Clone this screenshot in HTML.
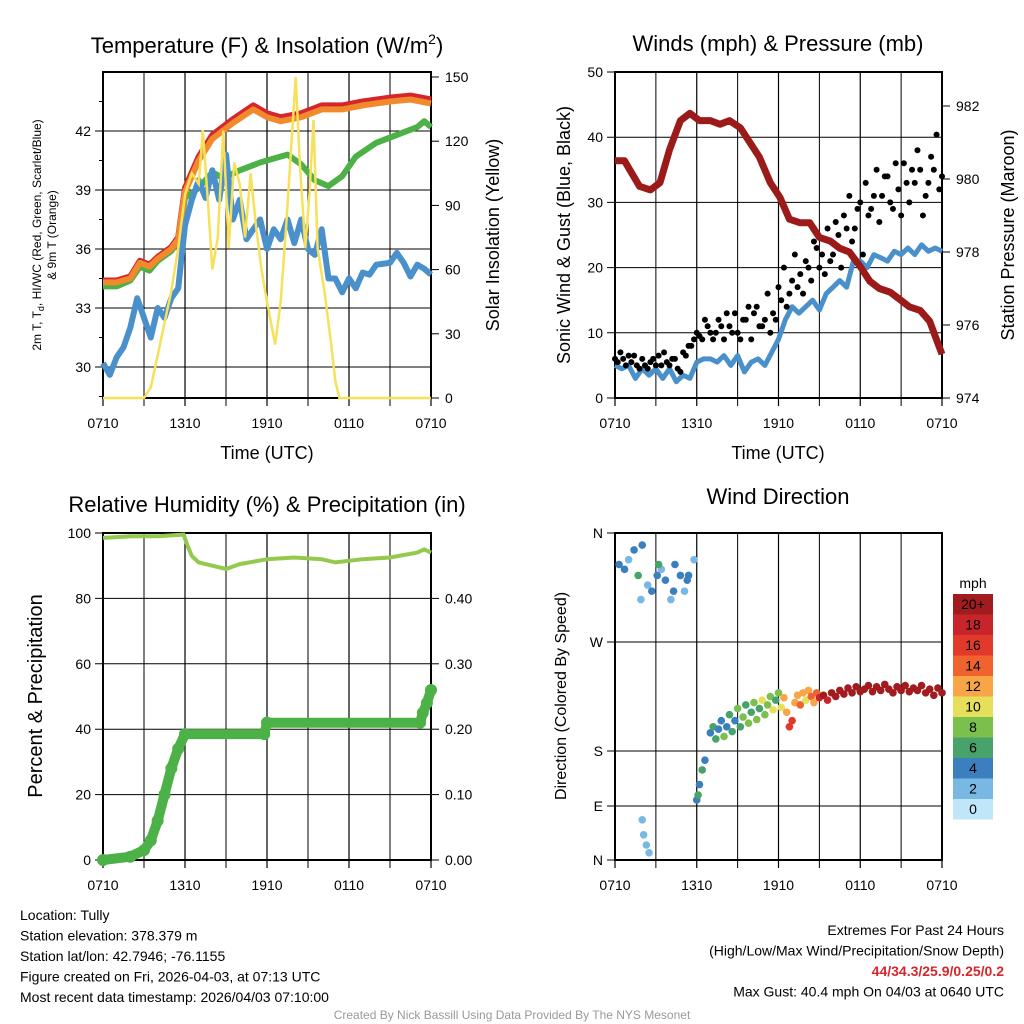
<!DOCTYPE html>
<html><head><meta charset="utf-8"><style>
body{margin:0;background:#fff;}
svg{display:block;font-family:"Liberation Sans",Arial,sans-serif;}
</style></head><body>
<svg id="c" width="1024" height="1024" viewBox="0 0 1024 1024"></svg>
<script>
// ---------- Panel 1 data ----------
const tT=[0,1,2,2.7,3.4,4,5,5.5,6,7,8,9.5,11,12,13,14.5,16,17.5,19,21,22.5,24];
const tRed=[34.4,34.4,34.6,35.4,35.2,35.6,36.1,36.6,39.1,40.7,41.8,42.6,43.3,42.9,42.7,42.9,43.3,43.3,43.5,43.7,43.8,43.6];
const tOrange=[34.3,34.3,34.5,35.3,35.1,35.5,36.0,36.5,38.9,40.5,41.6,42.4,43.1,42.7,42.5,42.7,43.1,43.1,43.3,43.5,43.6,43.4];
const gT=[0,1,2,2.7,3.4,4,5,5.5,6,7,8,8.8,10,11.5,12.5,13.5,14.5,15.5,16.5,17.5,18.5,20,21.5,23,23.5,24];
const tGreen=[34.1,34.1,34.4,35.1,34.9,35.4,35.9,36.4,38.6,39.1,39.9,39.6,40.0,40.4,40.6,40.8,40.3,39.5,39.2,39.7,40.7,41.4,41.8,42.2,42.5,42.2];
const bT=[0,0.5,1,1.5,2,2.5,3,3.5,4,4.5,5,5.5,6,6.5,7,7.5,8,8.5,9,9.5,10,10.5,11,11.5,12,12.5,13,13.5,14,14.5,15,15.5,16,16.5,17,17.5,18,18.5,19,19.5,20,21,21.5,22,22.5,23,23.5,24];
const tBlue=[30.2,29.6,30.5,31.0,32.0,33.5,32.5,31.5,33.0,32.5,33.5,34.0,37.2,38.5,39.5,38.6,40.0,38.5,40.8,37.5,38.5,36.5,37.0,37.5,36.0,37.0,36.5,37.5,36.3,37.5,36.0,35.7,37.0,34.5,34.5,33.8,34.5,34.0,34.8,34.7,35.2,35.3,35.8,35.3,34.6,35.2,35.0,34.7];
const yT=[0,3,3.5,4,4.5,5,5.5,6,6.5,7,7.3,7.7,8,8.4,8.8,9.2,9.6,10,10.4,10.8,11.2,11.6,12,12.3,12.6,13,13.4,13.8,14.1,14.4,14.8,15.1,15.4,15.7,16.2,16.7,17,17.3,24];
const solar=[0,0,5,20,35,50,70,95,105,100,125,90,60,75,125,70,110,100,75,105,80,60,45,35,25,45,80,120,150,110,70,95,130,70,50,25,8,0,0];
// ---------- Panel 2 data ----------
const wT=[0,0.5,1,1.5,2,2.5,3,3.5,4,4.5,5,5.5,6,6.5,7,7.5,8,8.5,9,9.5,10,10.5,11,11.5,12,12.5,13,13.5,14,14.5,15,15.5,16,16.5,17,17.5,18,18.5,19,19.5,20,20.5,21,21.5,22,22.5,23,23.5,24];
const wind=[5,4.5,5,3,4.5,3.5,4.5,3,4.5,2.5,3.5,3,5.5,6,6,5.5,6.5,5,6.5,4,5.5,6,5,7,9,12,14,13,14,15,13.5,16,17,18,17,21,21,20,22,21.5,21,22.5,22,23,22,23.5,22.5,23,22.5];
const gustT=[0,0.2,0.4,0.6,0.8,1,1.2,1.4,1.6,1.8,2,2.2,2.4,2.6,2.8,3,3.2,3.4,3.6,3.8,4,4.2,4.4,4.6,4.8,5,5.2,5.4,5.6,5.8,6,6.2,6.4,6.6,6.8,7,7.2,7.4,7.6,7.8,8,8.2,8.4,8.6,8.8,9,9.2,9.4,9.6,9.8,10,10.2,10.4,10.6,10.8,11,11.2,11.4,11.6,11.8,12,12.2,12.4,12.6,12.8,13,13.2,13.4,13.6,13.8,14,14.2,14.4,14.6,14.8,15,15.2,15.4,15.6,15.8,16,16.2,16.4,16.6,16.8,17,17.2,17.4,17.6,17.8,18,18.2,18.4,18.6,18.8,19,19.2,19.4,19.6,19.8,20,20.2,20.4,20.6,20.8,21,21.2,21.4,21.6,21.8,22,22.2,22.4,22.6,22.8,23,23.2,23.4,23.6,23.8,24];
const gust=[6,5.5,7,6,5,6.5,5.5,6.5,5,4.5,6,5,4.5,5.5,6,5,6.5,5,7,5.5,5,6,6,4.5,4,7,6.5,8,8,9,10,9.5,9,12,11,10,9,10,12,11,9,13,11,10,13,10,9,12,12,14,9,13,14,11,11,12,16,10,13,12,17,15,20,14,16,18,22,17,19,16,21,20,18,24,23,20,22,19,26,21,22,27,25,20,28,26,31,24,26,29,30,22,33,28,29,31,35,27,31,34,34,30,29,36,32,28,36,33,30,35,33,38,35,28,31,33,37,35,40.4,32,34];
const pT=[0,0.7,1.8,2.6,3.3,4.0,4.8,5.5,6.2,7.0,7.7,8.4,9.2,9.9,10.6,11.4,12.1,12.8,13.6,14.3,15.0,15.8,16.5,17.2,18.0,18.7,19.4,20.2,20.9,21.6,22.4,23.1,23.7,24];
const pres=[980.5,980.5,979.8,979.7,979.9,980.8,981.6,981.8,981.6,981.6,981.5,981.6,981.4,981.0,980.6,979.9,979.5,978.9,978.8,978.8,978.4,978.3,978.1,978.0,977.6,977.2,977.0,976.9,976.7,976.5,976.4,976.1,975.5,975.2];
// ---------- Panel 3 data ----------
const rT=[0,2,4,5.9,6.2,6.5,7,8,9,10,12,14,16,17,19,21,23,23.5,24];
const rh=[98.5,99,99,99.5,96,93,91,90,89,90.5,92,92.5,92,91,92,92.5,94,95,94];
const prT=[0,2,3,3.5,4,4.5,5,5.5,6,11.8,12,23.2,23.4,23.7,24];
const precip=[0,0.005,0.015,0.03,0.06,0.1,0.14,0.17,0.1925,0.1925,0.21,0.21,0.225,0.24,0.26];
// ---------- Panel 4 data ----------
const dT=[0.3,0.7,1.0,1.4,1.7,2.0,2.4,2.7,3.1,3.4,3.7,4.1,4.4,4.8,5.1,5.4,5.8,1.9,3.2,4.3,5.3,2.0,2.1,2.3,2.5,6.0,6.1,6.2,6.4,6.6,7.0,7.2,7.4,7.6,7.8,8.0,8.2,8.4,8.6,8.8,9.0,9.2,9.4,9.6,9.8,10.0,10.2,10.4,10.6,10.8,11.0,11.2,11.4,11.6,11.8,12.0,12.2,12.4,12.6,12.8,13.0,13.2,13.4,13.6,13.8,14.0,14.2,14.4,14.6,14.8,15.0,15.3,15.6,15.9,16.2,16.5,16.8,17.1,17.4,17.7,18.0,18.3,18.6,18.9,19.2,19.5,19.8,20.1,20.4,20.7,21.0,21.3,21.6,21.9,22.2,22.5,22.8,23.1,23.4,23.7,24.0];
const dDir=[334,330,338,346,325,350,317,312,325,330,321,305,334,325,312,325,338,305,334,312,321,67,42,25,12,100,108,125,149,165,195,200,190,198,205,192,200,210,196,205,215,200,208,218,203,212,220,206,215,222,210,218,225,214,222,228,216,224,212,200,205,220,226,218,228,222,230,225,220,228,224,226,222,228,225,230,227,232,228,233,229,231,234,229,233,230,235,231,228,233,230,234,229,232,230,234,228,231,226,232,228];
const dSpd=[3,4,2,3,5,3,2,3,4,2,3,1,3,4,2,3,2,2,6,3,4,1,2,1,1,4,5,4,5,4,4,5,6,3,4,7,4,5,6,4,7,5,8,6,7,5,8,7,6,9,7,8,7,9,6,8,10,11,12,15,16,12,11,13,12,10,11,13,12,14,17,19,18,20,21,20,22,21,22,23,21,22,24,22,23,21,22,24,22,21,23,22,21,23,22,24,21,22,23,22,21];
const cbLabels=["20+","18","16","14","12","10","8","6","4","2","0"];
const cbColors=["#a11b1f","#c8242b","#e13a2d","#f0632f","#f8a548","#e6df5b","#7bbf4d","#48a36b","#3b7fbf","#7ab8e4","#c0e7f9"];

const svg=document.getElementById('c');
const NS='http://www.w3.org/2000/svg';
function el(tag,attrs,parent,txt){const e=document.createElementNS(NS,tag);for(const k in attrs)e.setAttribute(k,attrs[k]);if(txt!==undefined)e.textContent=txt;(parent||svg).appendChild(e);return e;}
function lin(d0,d1,r0,r1){return v=>r0+(v-d0)/(d1-d0)*(r1-r0);}
function pathD(xs,ys,fx,fy){return xs.map((t,i)=>(i?'L':'M')+fx(t).toFixed(1)+','+fy(ys[i]).toFixed(1)).join('');}

function frame(g,L,R,T,B){
  const xs=lin(0,24,L,R);
  for(let h=0;h<=24;h+=3){const x=xs(h);
    el('line',{x1:x,x2:x,y1:T,y2:B+8,stroke:'#000','stroke-width':h%6?1:1.2},g);}
  const labs=['0710','1310','1910','0110','0710'];
  labs.forEach((s,i)=>{const t=el('text',{x:xs(i*6),y:B+30,'font-size':14,'text-anchor':'middle'},g,s);
    });
  el('rect',{x:L,y:T,width:R-L,height:B-T,fill:'none',stroke:'#000','stroke-width':2},g);
  return xs;
}
function hgrid(g,L,R,y,lab){el('line',{x1:L-8,x2:R,y1:y,y2:y,stroke:'#000','stroke-width':1},g);
  const t=el('text',{x:L-12,y:y+5,'font-size':14,'text-anchor':'end'},g,lab);
  }
function rtick(g,R,y,lab){el('line',{x1:R,x2:R+8,y1:y,y2:y,stroke:'#000','stroke-width':1},g);
  const t=el('text',{x:R+14,y:y+5,'font-size':14},g,lab);
  }
function title(x,y,s,name,fs){const t=el('text',{x:x,y:y,'font-size':fs||22,'text-anchor':'middle'},svg,s);
  return t;}
function vtitle(x,y,s,name,fs){const t=el('text',{x:0,y:0,'font-size':fs||18,'text-anchor':'middle',transform:`translate(${x},${y}) rotate(-90)`},svg,s);
  return t;}

// ===== Panel 1 =====
{const g=el('g',{});
 const L=103,R=431,T=72,B=398;
 const ty=lin(30,42,367,131), sy=lin(0,150,398,77);
 const xs=frame(g,L,R,T,B);
 [30,33,36,39,42].forEach(v=>hgrid(g,L,R,ty(v),String(v)));
 for(let v=28.5;v<45;v+=3)el('line',{x1:L-4,x2:L,y1:ty(v),y2:ty(v),stroke:'#000'},g);
 [0,30,60,90,120,150].forEach(v=>rtick(g,R,sy(v),String(v)));
 const ser=[[gT,tGreen,'#4cb147','green-temp-line'],[tT,tRed,'#d7262b','red-temp-line'],[tT,tOrange,'#f08a2c','orange-9m-temp-line'],[bT,tBlue,'#4a90cb','blue-dewpoint-line']];
 ser.forEach(s=>{const p=el('path',{d:pathD(s[0],s[1],xs,ty),fill:'none',stroke:s[2],'stroke-width':6,'stroke-linejoin':'round'},g);
   });
 const p=el('path',{d:pathD(yT,solar,xs,sy),fill:'none',stroke:'#f7e05a','stroke-width':2.5},g);
 
 const t=title(267,53,'Temperature (F) & Insolation (W/m','panel1-title');
 el('tspan',{dy:-9,'font-size':14},t,'2');el('tspan',{dy:9},t,')');
 title(267,459,'Time (UTC)','panel1-x-title',18);
 const v=el('text',{x:0,y:0,'font-size':12,'text-anchor':'middle',transform:'translate(41,235) rotate(-90)'},svg);
 
 el('tspan',{x:0,dy:0},v,'2m T, T');el('tspan',{dy:3,'font-size':9},v,'d');el('tspan',{dy:-3},v,', HI/WC (Red, Green, Scarlet/Blue)');
 el('tspan',{x:0,dy:15},v,'& 9m T (Orange)');
 vtitle(499,235,'Solar Insolation (Yellow)','panel1-y2-title');
}
// ===== Panel 2 =====
{const g=el('g',{});
 const L=615,R=942,T=72,B=398;
 const wy=lin(0,50,398,72), py=lin(974,982,398,106);
 const xs=frame(g,L,R,T,B);
 [0,10,20,30,40,50].forEach(v=>hgrid(g,L,R,wy(v),String(v)));
 [974,976,978,980,982].forEach(v=>rtick(g,R,py(v),String(v)));
 let p=el('path',{d:pathD(wT,wind,xs,wy),fill:'none',stroke:'#4a90cb','stroke-width':5,'stroke-linejoin':'round'},g);
 
 gustT.forEach((t,i)=>{const c=el('circle',{cx:xs(t),cy:wy(gust[i]),r:3,fill:'#000'},g);
   });
 p=el('path',{d:pathD(pT,pres,xs,py),fill:'none',stroke:'#9b1b1b','stroke-width':7,'stroke-linejoin':'round'},g);
 
 title(778,51,'Winds (mph) & Pressure (mb)','panel2-title');
 title(778,459,'Time (UTC)','panel2-x-title',18);
 vtitle(570,235,'Sonic Wind & Gust (Blue, Black)','panel2-y-title');
 vtitle(1014,235,'Station Pressure (Maroon)','panel2-y2-title');
}
// ===== Panel 3 =====
{const g=el('g',{});
 const L=103,R=431,T=533,B=860;
 const ry=lin(0,100,860,533), qy=lin(0,0.5,860,533);
 const xs=frame(g,L,R,T,B);
 [0,20,40,60,80,100].forEach(v=>hgrid(g,L,R,ry(v),String(v)));
 [0,0.1,0.2,0.3,0.4].forEach(v=>rtick(g,R,qy(v),v.toFixed(2)));
 let p=el('path',{d:pathD(rT,rh,xs,ry),fill:'none',stroke:'#95c94e','stroke-width':4},g);
 
 p=el('path',{d:pathD(prT,precip,xs,qy),fill:'none',stroke:'#4cb147','stroke-width':10,'stroke-linejoin':'round'},g);
 
 prT.forEach((t,i)=>{const c=el('circle',{cx:xs(t),cy:qy(precip[i]),r:6,fill:'#4cb147'},g);
   });
 title(267,512,'Relative Humidity (%) & Precipitation (in)','panel3-title');
 vtitle(42,696,'Percent & Precipitation','panel3-y-title',20);
}
// ===== Panel 4 =====
{const g=el('g',{});
 const L=615,R=942,T=533,B=860;
 const dk=[0,90,180,270,360], dp=[860,806,751,642,533];
 const dy=v=>{for(let i=0;i<4;i++)if(v<=dk[i+1])return lin(dk[i],dk[i+1],dp[i],dp[i+1])(v);return dp[4];};
 const xs=frame(g,L,R,T,B);
 ['N','E','S','W','N'].forEach((s,i)=>hgrid(g,L,R,dy(dk[i]),s));
 dT.forEach((t,i)=>{const idx=Math.max(0,10-Math.min(10,Math.round(dSpd[i]/2)));
   const c=el('circle',{cx:xs(t),cy:dy(dDir[i]),r:3.8,fill:cbColors[idx]},g);
   });
 title(778,504,'Wind Direction','panel4-title');
 vtitle(566,696,'Direction (Colored By Speed)','panel4-y-title',16);
 const lg=el('g',{});
 el('text',{x:973,y:588,'font-size':14,'text-anchor':'middle'},lg,'mph');
 cbColors.forEach((c,i)=>{const r=el('rect',{x:953,y:594+i*20.5,width:40,height:20.5,fill:c},lg);
   
   el('text',{x:973,y:609+i*20.5,'font-size':14,'text-anchor':'middle'},lg,cbLabels[i]);});
}
// ===== Footer =====
{const lines=['Location: Tully','Station elevation: 378.379 m','Station lat/lon: 42.7946; -76.1155','Figure created on Fri, 2026-04-03, at 07:13 UTC','Most recent data timestamp: 2026/04/03 07:10:00'];
 lines.forEach((s,i)=>{const t=el('text',{x:20,y:920+i*20.5,'font-size':14},svg,s);});
 const r=[['Extremes For Past 24 Hours','#000',''],['(High/Low/Max Wind/Precipitation/Snow Depth)','#000',''],['44/34.3/25.9/0.25/0.2','#d7262b','bold'],['Max Gust: 40.4 mph On 04/03 at 0640 UTC','#000','']];
 r.forEach((s,i)=>{const t=el('text',{x:1004,y:935+i*20.5,'font-size':14,'text-anchor':'end',fill:s[1],'font-weight':s[2]||'normal'},svg,s[0]);});
 const t=el('text',{x:512,y:1019,'font-size':12,'text-anchor':'middle',fill:'#999'},svg,'Created By Nick Bassill Using Data Provided By The NYS Mesonet');
 
}
</script>
</body></html>
